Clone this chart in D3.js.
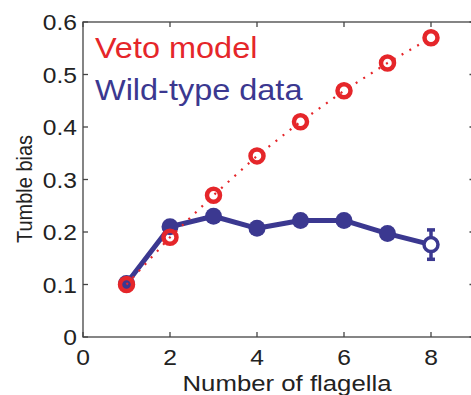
<!DOCTYPE html>
<html>
<head>
<meta charset="utf-8">
<script src="https://cdn.jsdelivr.net/npm/d3@7"></script>
<style>
  body { margin: 0; background: #fff; }
  text { font-family: "Liberation Sans", Arial, sans-serif; fill: #222; }
</style>
</head>
<body>
<div id="chart"></div>
<script>
var flagella = [1, 2, 3, 4, 5, 6, 7, 8];
var vetoModel = [0.100, 0.190, 0.270, 0.345, 0.410, 0.469, 0.522, 0.570];
var wildType = [0.102, 0.210, 0.230, 0.207, 0.222, 0.222, 0.197, 0.176];
var wildTypeErr = [0.005, 0.006, 0.006, 0.005, 0.005, 0.006, 0.008, 0.028];
var xTicks = [0, 2, 4, 6, 8];
var yTicks = [0, 0.1, 0.2, 0.3, 0.4, 0.5, 0.6];
var legendLabels = ["Veto model", "Wild-type data"];

var width = 471, height = 395,
    sx = 1.12,
    red = "#e5262a", blue = "#3b3890", axisColor = "#444";

var svg = d3.select("#chart").append("svg")
  .attr("width", width)
  .attr("height", height);

var x = d3.scaleLinear().domain([0, 9]).range([83, 474.5]);
var y = d3.scaleLinear().domain([0, 0.6]).range([337, 22]);

// stretched text helper
function label(px, py, str, size, anchor, color) {
  return svg.append("text")
    .attr("transform", "translate(" + px + "," + py + ") scale(" + sx + ",1)")
    .attr("text-anchor", anchor)
    .attr("font-size", size)
    .style("fill", color || "#222")
    .text(str);
}

// frame with inward ticks
var g = svg.append("g").attr("stroke", axisColor).attr("stroke-width", 1.3).attr("fill", "none");
g.append("rect")
  .attr("x", x(0)).attr("y", y(0.6))
  .attr("width", x(9) - x(0)).attr("height", y(0) - y(0.6));

xTicks.forEach(function(t) {
  g.append("line").attr("x1", x(t)).attr("x2", x(t)).attr("y1", y(0)).attr("y2", y(0) - 5);
  g.append("line").attr("x1", x(t)).attr("x2", x(t)).attr("y1", y(0.6)).attr("y2", y(0.6) + 5);
  label(x(t), 365, d3.format("d")(t), 22, "middle");
});
yTicks.forEach(function(t) {
  g.append("line").attr("x1", x(0)).attr("x2", x(0) + 5).attr("y1", y(t)).attr("y2", y(t));
  g.append("line").attr("x1", x(9)).attr("x2", x(9) - 5).attr("y1", y(t)).attr("y2", y(t));
  label(77, y(t) + 8, t === 0 ? "0" : d3.format(".1f")(t), 22, "end");
});

// axis titles
label(287, 391, "Number of flagella", 23, "middle");
svg.append("text")
  .attr("transform", "translate(32,189) scale(" + sx + ",1) rotate(-90)")
  .attr("text-anchor", "middle")
  .attr("font-size", 20)
  .text("Tumble bias");

// wild-type data
var line = d3.line();
var wtPts = flagella.map(function(f, i) { return [x(f), y(wildType[i])]; });
var vmPts = flagella.map(function(f, i) { return [x(f), y(vetoModel[i])]; });

svg.append("path")
  .attr("d", line(wtPts))
  .attr("fill", "none")
  .attr("stroke", blue)
  .attr("stroke-width", 5)
  .attr("stroke-linejoin", "round");

flagella.forEach(function(f, i) {
  var cx = x(f), lo = y(wildType[i] - wildTypeErr[i]), hi = y(wildType[i] + wildTypeErr[i]);
  svg.append("line").attr("x1", cx).attr("x2", cx).attr("y1", lo).attr("y2", hi)
    .attr("stroke", blue).attr("stroke-width", 3.5);
  [lo, hi].forEach(function(v) {
    svg.append("line").attr("x1", cx - 4).attr("x2", cx + 4).attr("y1", v).attr("y2", v)
      .attr("stroke", blue).attr("stroke-width", 3.5);
  });
});

svg.selectAll("circle.wt")
  .data(flagella)
  .enter().append("circle")
  .attr("class", "wt")
  .attr("cx", function(d) { return x(d); })
  .attr("cy", function(d, i) { return y(wildType[i]); })
  .attr("r", function(d, i) { return i === flagella.length - 1 ? 7 : 8.5; })
  .attr("fill", function(d, i) { return i === flagella.length - 1 ? "#fff" : blue; })
  .attr("stroke", blue)
  .attr("stroke-width", function(d, i) { return i === flagella.length - 1 ? 3.5 : 0; });

// veto model
svg.append("path")
  .attr("d", line(vmPts))
  .attr("fill", "none")
  .attr("stroke", red)
  .attr("stroke-width", 2.2)
  .attr("stroke-dasharray", "2,7");

svg.selectAll("circle.vm")
  .data(flagella)
  .enter().append("circle")
  .attr("class", "vm")
  .attr("cx", function(d) { return x(d); })
  .attr("cy", function(d, i) { return y(vetoModel[i]); })
  .attr("r", 6.5)
  .attr("fill", "none")
  .attr("stroke", red)
  .attr("stroke-width", 4.5);

// legend text
label(95, 58, legendLabels[0], 29, "start", red);
label(95, 100, legendLabels[1], 29, "start", blue);
</script>
</body>
</html>
